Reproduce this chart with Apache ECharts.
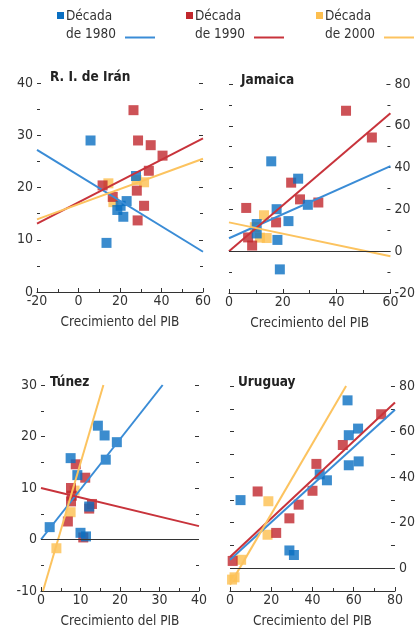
<!DOCTYPE html>
<html>
<head>
<meta charset="utf-8">
<script src="https://cdn.jsdelivr.net/npm/echarts@6/dist/echarts.min.js"></script>
<style>
html, body { margin: 0; background: #fff; }
#chart { width: 418px; height: 629px; }
</style>
</head>
<body>
<div id="chart"></div>
<script>
// decades shown in the legend and panel names
var decades = ['de 1980', 'de 1990', 'de 2000'];
var countries = ['R. I. de Irán', 'Jamaica', 'Túnez', 'Uruguay'];

// scatter points [crecimiento del PIB, valor]
var iran80 = [[5.8, 29.0], [13.5, 9.4], [27.7, 22.2], [23.2, 17.4], [18.7, 15.7], [20.3, 16.5], [21.6, 14.4]];
var iran90 = [[26.5, 34.8], [28.7, 29.0], [34.8, 28.1], [40.5, 26.1], [33.9, 23.2], [11.6, 20.4], [16.5, 18.2], [28.1, 19.4], [31.6, 16.5], [28.5, 13.7]];
var iran00 = [[14.4, 20.8], [16.8, 17.2], [31.6, 21.0], [28.0, 21.4]];

var jam80 = [[15.7, 43.0], [25.7, 34.7], [17.7, 20.1], [22.1, 14.4], [29.3, 22.2], [10.3, 13.0], [10.3, 8.5], [18.0, 5.4], [18.9, -8.7]];
var jam90 = [[43.5, 67.2], [53.1, 54.4], [23.1, 32.8], [26.4, 24.8], [33.2, 23.3], [6.4, 20.7], [17.5, 13.8], [7.1, 6.6], [8.6, 2.7]];
var jam00 = [[13.0, 17.2], [14.0, 6.3], [9.6, 11.5], [11.5, 6.5]];

var tun80 = [[14.4, 22.1], [16.1, 20.2], [19.2, 18.9], [16.4, 15.5], [7.5, 15.8], [9.2, 12.5], [12.2, 6.4], [2.2, 2.4], [10.0, 1.3], [11.4, 0.6]];
var tun90 = [[8.8, 14.6], [11.2, 12.0], [7.6, 10.0], [7.8, 8.5], [7.6, 7.4], [12.9, 6.9], [12.2, 6.0], [6.8, 3.5], [10.7, 0.4]];
var tun00 = [[3.9, -1.7], [7.5, 5.3], [8.5, 9.5]];

var uru80 = [[57.0, 73.7], [57.6, 58.4], [62.1, 61.3], [57.6, 45.2], [62.4, 46.9], [43.5, 41.2], [47.0, 38.6], [5.1, 29.9], [28.8, 7.8], [31.0, 5.8]];
var uru90 = [[73.3, 67.6], [54.7, 54.1], [41.9, 45.8], [40.0, 34.0], [13.4, 33.7], [33.3, 27.9], [28.8, 21.9], [22.4, 15.5], [1.3, 3.2]];
var uru00 = [[18.6, 29.4], [18.2, 14.7], [5.4, 3.7], [2.2, -4.0], [1.0, -5.0]];

// trend lines, two end points each
var iranFit80 = [[-20, 27.2], [60, 7.7]];
var iranFit90 = [[-20, 13.1], [60, 29.4]];
var iranFit00 = [[-20, 13.9], [60, 25.5]];
var jamFit80 = [[0, 6.2], [60, 40.7]];
var jamFit90 = [[0, 0], [60, 66]];
var jamFit00 = [[0, 13.8], [60, -2.4]];
var tunFit80 = [[0, 0], [30.8, 30]];
var tunFit90 = [[0, 10], [40, 2.6]];
var tunFit00 = [[0.5, -10], [15.8, 30]];
var uruFit80 = [[0, 3.7], [80, 69.6]];
var uruFit90 = [[0, 4.9], [80, 72.8]];
var uruFit00 = [[0, -7.2], [56.3, 80]];

// axis ranges [min, max, step]
var xRanges = [[-20, 60, 20], [0, 60, 20], [0, 40, 10], [0, 80, 20]];
var yRanges = [[0, 40, 10], [-20, 80, 20], [-10, 30, 10], [-10, 80, 10]];

var points = [[iran80, iran90, iran00], [jam80, jam90, jam00], [tun80, tun90, tun00], [uru80, uru90, uru00]];
var fits = [[iranFit80, iranFit90, iranFit00], [jamFit80, jamFit90, jamFit00], [tunFit80, tunFit90, tunFit00], [uruFit80, uruFit90, uruFit00]];

var FONT = '"DejaVu Sans Condensed", "Liberation Sans Narrow", sans-serif';
var INK = '#333';
var squareColors = ['#0a6fc2', '#c1272d', '#fdbf4f'];
var lineColors = ['#3a8cd6', '#c8333b', '#fcc35f'];

var grids = [
  {left: 37, top: 83, width: 166, height: 209},
  {left: 229, top: 84, width: 163, height: 209},
  {left: 41, top: 385, width: 158, height: 208},
  {left: 230, top: 386, width: 167, height: 207}
];
var labelSide = ['left', 'right', 'left', 'right'];
var zeroLine = [false, true, true, true];
var titlePos = [[50, 70], [241, 73], [50, 375], [238, 375]];

var chart = echarts.init(document.getElementById('chart'));

var xAxes = [], yAxes = [], series = [], titles = [];

grids.forEach(function (g, i) {
  var xr = xRanges[i], yr = yRanges[i];
  xAxes.push({
    type: 'value', gridIndex: i, position: 'bottom',
    min: xr[0], max: xr[1], interval: xr[2],
    name: 'Crecimiento del PIB', nameLocation: 'middle', nameGap: 23,
    nameTextStyle: {fontFamily: FONT, fontSize: 13.5, color: INK},
    axisLine: {show: true, onZero: false, lineStyle: {color: INK, width: 1.2}},
    axisTick: {show: true, inside: true, length: 4, lineStyle: {color: INK}},
    minorTick: {show: true, splitNumber: 2, length: 3, lineStyle: {color: INK}},
    axisLabel: {margin: 2, fontFamily: FONT, fontSize: 14, color: INK},
    splitLine: {show: false}
  });
  var uru = (i === 3);
  ['left', 'right'].forEach(function (side) {
    yAxes.push({
      type: 'value', gridIndex: i, position: side,
      min: yr[0], max: yr[1], interval: yr[2],
      axisLine: {show: false, onZero: false},
      axisTick: {show: true, inside: true, length: 4, lineStyle: {color: INK}},
      minorTick: {show: !uru, splitNumber: 2, length: 3, lineStyle: {color: INK}},
      axisLabel: {
        show: labelSide[i] === side, margin: 4,
        fontFamily: FONT, fontSize: 14, color: INK,
        formatter: function (v) { return (uru && (v % 20 !== 0 || v < 0)) ? '' : String(v); }
      },
      splitLine: {show: false}
    });
  });
  titles.push({
    text: countries[i], left: titlePos[i][0], top: titlePos[i][1], padding: 0,
    textStyle: {fontFamily: FONT, fontSize: 13.5, fontWeight: 'bold', color: '#222'}
  });
  // squares: 2000s first so the 1980s sit on top
  [2, 1, 0].forEach(function (d) {
    var s = {
      type: 'scatter', xAxisIndex: i, yAxisIndex: 2 * i,
      data: points[i][d], symbol: 'rect', symbolSize: 10,
      itemStyle: {color: squareColors[d]}, z: 2, silent: true
    };
    if (d === 2 && zeroLine[i]) {
      s.markLine = {
        silent: true, symbol: 'none', label: {show: false},
        lineStyle: {color: INK, width: 1.2, type: 'solid'},
        data: [{yAxis: 0}]
      };
    }
    series.push(s);
  });
  [0, 1, 2].forEach(function (d) {
    series.push({
      type: 'line', xAxisIndex: i, yAxisIndex: 2 * i,
      data: fits[i][d], symbol: 'none', clip: true, silent: true,
      lineStyle: {color: lineColors[d], width: 2}, z: 3
    });
  });
});

// legend drawn by hand: square + two text lines + line sample
var legendX = [57, 186, 316];
var graphics = [];
decades.forEach(function (label, d) {
  var x = legendX[d];
  graphics.push({type: 'rect', shape: {x: x, y: 12, width: 7, height: 7}, style: {fill: squareColors[d]}});
  graphics.push({type: 'text', style: {x: x + 9, y: 9, text: 'Década', font: '13.5px ' + FONT, fill: INK}});
  graphics.push({type: 'text', style: {x: x + 9, y: 27, text: label, font: '13.5px ' + FONT, fill: INK}});
  graphics.push({type: 'line', shape: {x1: x + 68, y1: 37.5, x2: x + 98, y2: 37.5}, style: {stroke: lineColors[d], lineWidth: 2}});
});

chart.setOption({
  animation: false,
  backgroundColor: '#fff',
  title: titles,
  grid: grids,
  xAxis: xAxes,
  yAxis: yAxes,
  series: series,
  graphic: graphics
});
</script>
</body>
</html>
